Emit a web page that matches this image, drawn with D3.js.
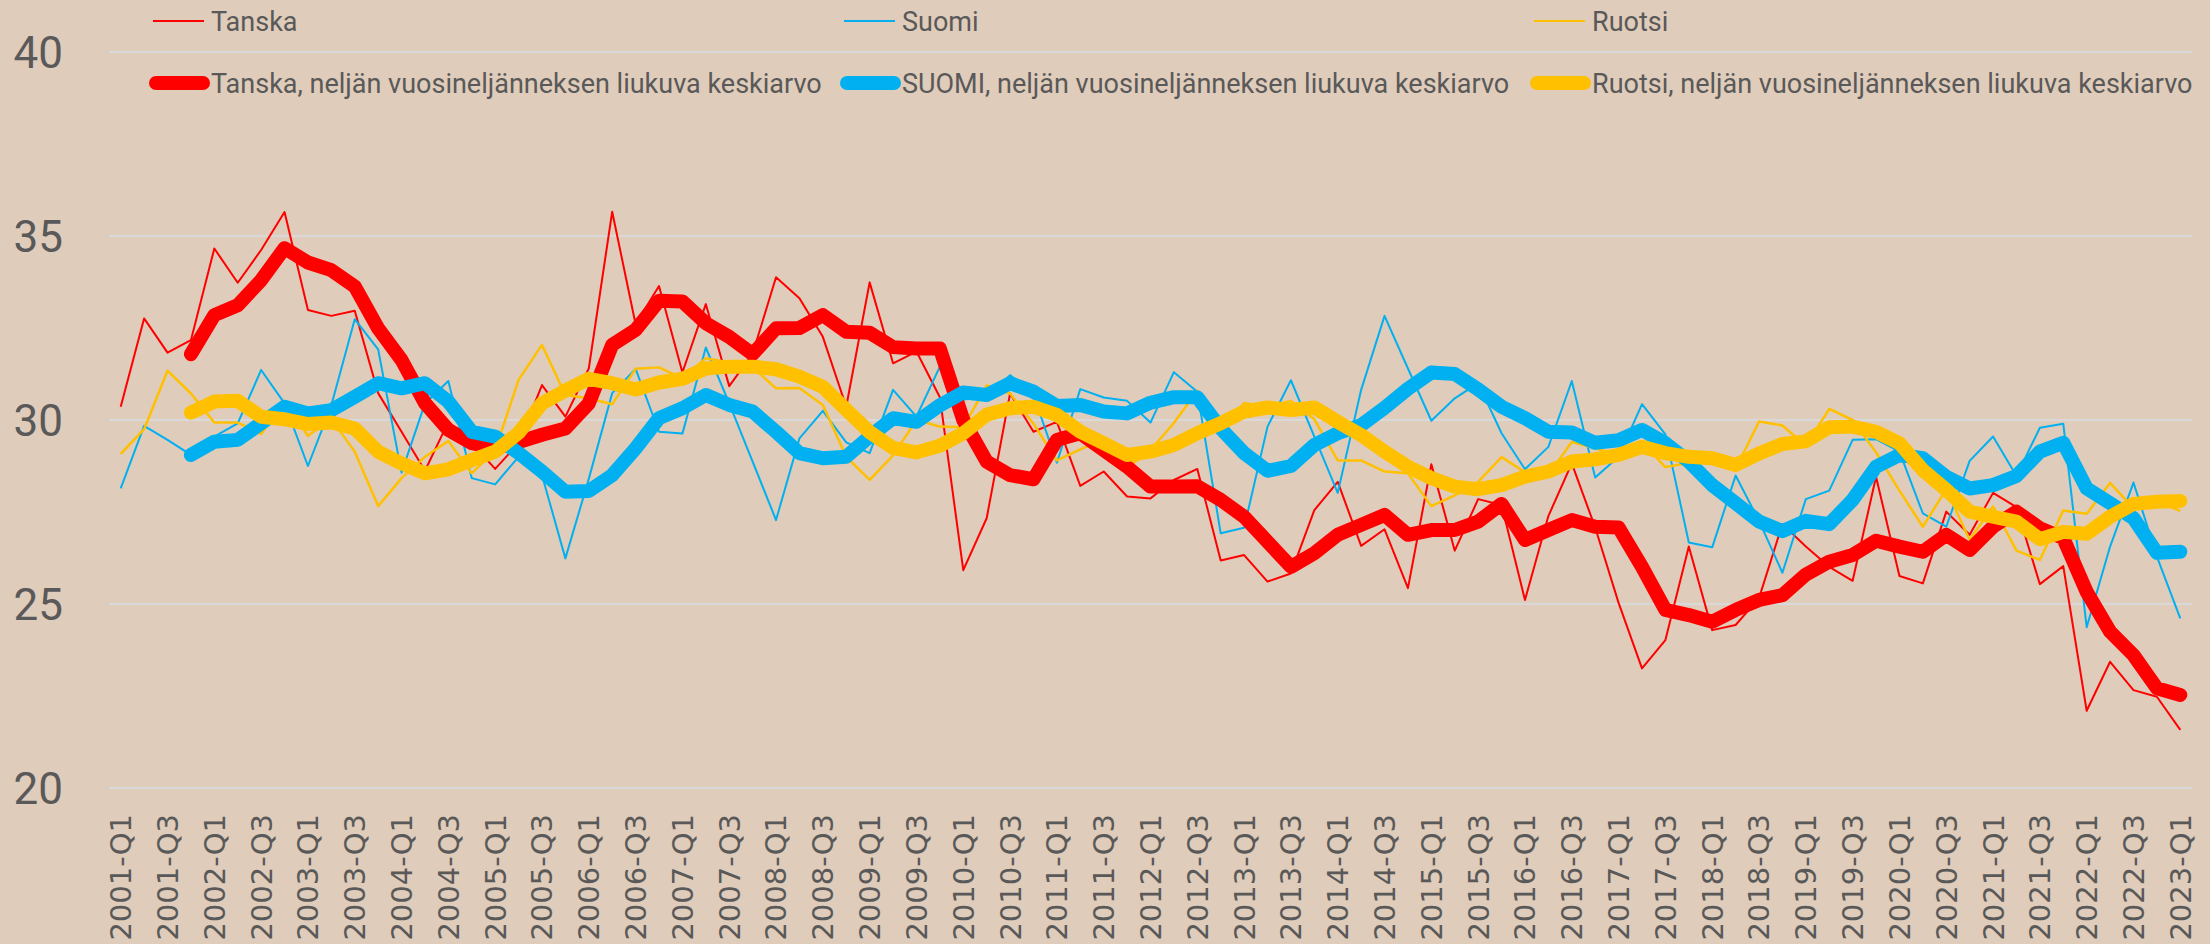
<!DOCTYPE html>
<html lang="fi">
    <head>
        <meta charset="utf-8">
        <title>Tanska, Suomi, Ruotsi</title>
        <script src="https://cdn.jsdelivr.net/npm/d3@7"></script>
        <style type="text/css">
            html, body { margin: 0; padding: 0; background: #e0ccba; }
            svg { display: block; }
        </style>
    </head>
    <body>
        <script type="text/javascript">
        // Size of the page
        var svgWidth = 2210;
        var svgHeight = 944;

        // Quarters 2001-Q1 ... 2023-Q1
        var quarters = [];
        for (var yr = 2001; yr <= 2023; yr++) {
            for (var q = 1; q <= 4; q++) {
                if (yr === 2023 && q > 1) break;
                quarters.push(yr + "-Q" + q);
            }
        }

        var yTicks = [20, 25, 30, 35, 40];

        // Quarterly values
        var tanska = [30.36, 32.76, 31.83, 32.17, 34.66, 33.73, 34.62, 35.65, 32.99, 32.83,
            32.97, 30.73, 29.68, 28.62, 29.95, 29.37, 28.67, 29.37, 30.95, 30.09,
            31.4, 35.66, 32.6, 33.64, 31.29, 33.15, 30.92, 31.8, 33.88, 33.31,
            32.26, 30.36, 33.74, 31.54, 31.86, 30.62, 25.92, 27.33, 30.72, 29.68,
            29.95, 28.21, 28.6, 27.92, 27.87, 28.37, 28.67, 26.18, 26.33, 25.61,
            25.83, 27.55, 28.32, 26.58, 27.03, 25.43, 28.8, 26.45, 27.85, 27.69,
            25.11, 27.39, 28.82, 27.08, 25.03, 23.25, 24.02, 26.56, 24.29, 24.43,
            25.16, 27.17, 26.56, 26.01, 25.63, 28.46, 25.76, 25.56, 27.51, 26.88,
            28.02, 27.63, 25.54, 26.03, 22.1, 23.43, 22.66, 22.48, 21.58];

        var suomi = [28.14, 29.84, 29.46, 29.05, 29.55, 29.91, 31.36, 30.45, 28.75, 30.4,
            32.74, 31.92, 28.57, 30.45, 31.06, 28.42, 28.25, 29.0, 28.5, 26.24,
            28.4, 30.73, 31.39, 29.68, 29.63, 31.97, 30.45, 28.87, 27.28, 29.5,
            30.25, 29.39, 29.1, 30.82, 30.09, 31.45, 30.56, 30.62, 31.22, 30.68,
            28.84, 30.84, 30.61, 30.52, 29.93, 31.3, 30.77, 26.92, 27.07, 29.82,
            31.08, 29.55, 28.02, 30.82, 32.83, 31.4, 29.98, 30.59, 31.0, 29.64,
            28.66, 29.27, 31.06, 28.44, 29.0, 30.43, 29.61, 26.67, 26.54, 28.49,
            27.26, 25.85, 27.85, 28.08, 29.46, 29.48, 29.14, 27.46, 27.1, 28.89,
            29.55, 28.48, 29.79, 29.9, 24.37, 26.56, 28.3, 26.29, 24.61];

        var ruotsi = [29.08, 29.75, 31.34, 30.72, 29.93, 29.93, 29.62, 30.5, 29.57, 30.03,
            29.14, 27.66, 28.42, 29.0, 29.43, 28.55, 29.18, 31.09, 32.04, 30.68,
            30.59, 30.43, 31.39, 31.43, 31.13, 31.68, 31.56, 31.43, 30.86, 30.87,
            30.41, 29.0, 28.37, 29.04, 30.0, 29.82, 29.8, 30.94, 30.72, 29.9,
            28.9, 29.2, 29.48, 28.7, 29.18, 29.92, 30.8, 29.74, 30.46, 30.36,
            30.52, 30.02, 28.9, 28.9, 28.6, 28.55, 27.66, 27.95, 28.32, 28.99,
            28.58, 28.51, 29.4, 29.23, 29.06, 29.39, 28.72, 28.83, 28.9, 28.67,
            29.96, 29.85, 29.3, 30.3, 30.0, 29.12, 28.08, 27.1, 28.12, 26.74,
            27.65, 26.45, 26.2, 27.54, 27.45, 28.29, 27.6, 27.78, 27.53];

        // Four-quarter moving averages (first three quarters empty)
        var tanskaKa = [null, null, null, 31.79, 32.85, 33.12, 33.8, 34.67, 34.28, 34.07,
            33.63, 32.49, 31.63, 30.46, 29.73, 29.37, 29.24, 29.4, 29.6, 29.77,
            30.45, 32.04, 32.45, 33.24, 33.22, 32.63, 32.26, 31.79, 32.49, 32.5,
            32.85, 32.4, 32.37, 31.98, 31.94, 31.94, 30.0, 28.87, 28.5, 28.39,
            29.46, 29.64, 29.18, 28.73, 28.19, 28.19, 28.2, 27.83, 27.37, 26.69,
            26.01, 26.38, 26.88, 27.15, 27.42, 26.88, 27.01, 27.01, 27.24, 27.72,
            26.74, 27.01, 27.28, 27.1, 27.08, 26.01, 24.84, 24.7, 24.52, 24.84,
            25.11, 25.24, 25.8, 26.15, 26.33, 26.72, 26.56, 26.42, 26.88, 26.47,
            27.1, 27.51, 27.06, 26.79, 25.33, 24.25, 23.61, 22.71, 22.53];

        var suomiKa = [null, null, null, 29.05, 29.41, 29.46, 29.91, 30.36, 30.18, 30.27,
            30.63, 31.0, 30.86, 31.0, 30.5, 29.68, 29.55, 29.1, 28.6, 28.05,
            28.07, 28.5, 29.23, 30.05, 30.32, 30.68, 30.41, 30.23, 29.68, 29.1,
            28.96, 29.0, 29.55, 30.05, 29.95, 30.4, 30.75, 30.68, 31.0, 30.77,
            30.38, 30.41, 30.23, 30.18, 30.47, 30.62, 30.62, 29.77, 29.1, 28.62,
            28.75, 29.32, 29.64, 29.86, 30.33, 30.85, 31.29, 31.25, 30.83, 30.36,
            30.05, 29.68, 29.66, 29.38, 29.45, 29.73, 29.37, 28.87, 28.23, 27.74,
            27.24, 26.98, 27.26, 27.17, 27.83, 28.73, 29.05, 28.96, 28.46, 28.14,
            28.23, 28.48, 29.14, 29.38, 28.14, 27.74, 27.33, 26.39, 26.42];

        var ruotsiKa = [null, null, null, 30.2, 30.5, 30.52, 30.09, 30.02, 29.89, 29.93,
            29.77, 29.14, 28.82, 28.55, 28.66, 28.91, 29.14, 29.65, 30.45, 30.8,
            31.12, 31.0, 30.83, 31.02, 31.12, 31.4, 31.45, 31.45, 31.38, 31.18,
            30.9, 30.28, 29.67, 29.24, 29.12, 29.3, 29.64, 30.14, 30.32, 30.36,
            30.14, 29.68, 29.37, 29.05, 29.14, 29.32, 29.64, 29.91, 30.23, 30.34,
            30.27, 30.34, 29.95, 29.59, 29.14, 28.73, 28.42, 28.19, 28.12, 28.23,
            28.46, 28.6, 28.87, 28.93, 29.05, 29.27, 29.1, 29.0, 28.96, 28.78,
            29.09, 29.35, 29.42, 29.8, 29.82, 29.68, 29.37, 28.64, 28.1, 27.51,
            27.37, 27.24, 26.76, 26.96, 26.91, 27.37, 27.72, 27.78, 27.8];

        var series = [
            {name: "Tanska", values: tanska, color: "#ff0000", width: 2},
            {name: "Suomi", values: suomi, color: "#00b0f0", width: 2},
            {name: "Ruotsi", values: ruotsi, color: "#ffc000", width: 2.5},
            {name: "Tanska, neljän vuosineljänneksen liukuva keskiarvo", values: tanskaKa, color: "#ff0000", width: 14},
            {name: "SUOMI, neljän vuosineljänneksen liukuva keskiarvo", values: suomiKa, color: "#00b0f0", width: 14},
            {name: "Ruotsi, neljän vuosineljänneksen liukuva keskiarvo", values: ruotsiKa, color: "#ffc000", width: 14}
        ];

        var labelFont = "'Liberation Sans Narrow', 'Arial Narrow', Roboto, sans-serif";

        // Plot area
        var plotLeft = 109, plotRight = 2192, plotTop = 52, plotBottom = 788;

        var x = d3.scalePoint()
            .domain(quarters)
            .range([plotLeft, plotRight])
            .padding(0.5);

        var y = d3.scaleLinear()
            .domain([20, 40])
            .range([plotBottom, plotTop]);

        var svg = d3.select("body")
            .append("svg")
            .attr("width", svgWidth)
            .attr("height", svgHeight);

        svg.append("rect")
            .attr("width", svgWidth)
            .attr("height", svgHeight)
            .attr("fill", "#e0ccba");

        // Gridlines
        svg.selectAll("line.grid")
            .data(yTicks)
            .enter()
            .append("line")
            .attr("class", "grid")
            .attr("x1", plotLeft)
            .attr("x2", plotRight)
            .attr("y1", function(d) { return y(d); })
            .attr("y2", function(d) { return y(d); })
            .attr("stroke", "#d9d9d9")
            .attr("stroke-width", 2);

        // Y axis labels
        svg.selectAll("text.ytick")
            .data(yTicks)
            .enter()
            .append("text")
            .attr("class", "ytick")
            .text(function(d) { return d; })
            .attr("x", 63)
            .attr("y", function(d) { return y(d); })
            .attr("dy", "0.36em")
            .attr("text-anchor", "end")
            .attr("font-family", labelFont)
            .attr("font-size", "44px")
            .attr("fill", "#595959");

        // X axis labels, every second quarter
        svg.selectAll("text.xtick")
            .data(quarters.filter(function(d, i) { return i % 2 === 0; }))
            .enter()
            .append("text")
            .attr("class", "xtick")
            .text(function(d) { return d; })
            .attr("transform", function(d) {
                return "translate(" + x(d) + ",814) rotate(-90)";
            })
            .attr("dy", "0.36em")
            .attr("text-anchor", "end")
            .attr("font-family", "'DejaVu Sans', sans-serif")
            .attr("font-size", "29px")
            .attr("fill", "#595959");

        // Lines
        var line = d3.line()
            .defined(function(d) { return d !== null; })
            .x(function(d, i) { return x(quarters[i]); })
            .y(function(d) { return y(d); });

        svg.selectAll("path.series")
            .data(series)
            .enter()
            .append("path")
            .attr("class", "series")
            .attr("d", function(s) { return line(s.values); })
            .attr("fill", "none")
            .attr("stroke", function(s) { return s.color; })
            .attr("stroke-width", function(s) { return s.width; })
            .attr("stroke-linejoin", "round")
            .attr("stroke-linecap", function(s) { return s.width > 5 ? "round" : "butt"; });

        // Legend: two rows of three
        var legendX = [153, 844, 1534];
        var legendY = [21, 83];

        var legend = svg.selectAll("g.legend")
            .data(series)
            .enter()
            .append("g")
            .attr("class", "legend")
            .attr("transform", function(s, i) {
                return "translate(" + legendX[i % 3] + "," + legendY[Math.floor(i / 3)] + ")";
            });

        legend.append("line")
            .attr("x1", function(s) { return s.width > 5 ? 3 : 0; })
            .attr("x2", function(s) { return s.width > 5 ? 50 : 51; })
            .attr("y1", 0)
            .attr("y2", 0)
            .attr("stroke", function(s) { return s.color; })
            .attr("stroke-width", function(s) { return s.width > 5 ? 14 : 2; })
            .attr("stroke-linecap", function(s) { return s.width > 5 ? "round" : "butt"; });

        legend.append("text")
            .text(function(s) { return s.name; })
            .attr("x", 58)
            .attr("y", 0)
            .attr("dy", "0.36em")
            .attr("font-family", labelFont)
            .attr("font-size", "27px")
            .attr("fill", "#595959");
        </script>
    </body>
</html>
